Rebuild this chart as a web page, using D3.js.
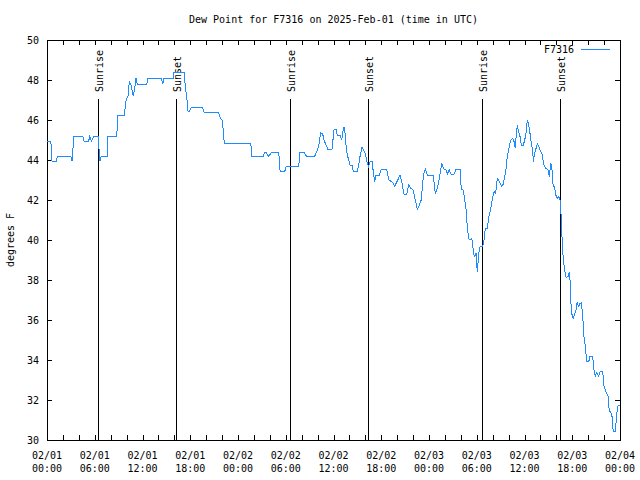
<!DOCTYPE html>
<html>
<head>
<meta charset="utf-8">
<script src="https://cdn.jsdelivr.net/npm/d3@7"></script>
<style>
  html, body { margin: 0; padding: 0; background: #fff; }
  svg { display: block; }
  text { font-family: "DejaVu Sans Mono", "Liberation Mono", monospace; font-size: 10px; fill: #000; }
</style>
</head>
<body>
<svg id="chart" width="640" height="480"></svg>
<script>
// ---- data (hours since 2025-02-01 00:00 UTC, dew point in °F) ----
const obsHours = [
  0, 0.44, 0.54, 0.63, 1.22, 1.29, 2.98, 3.14, 3.39, 4.49, 4.65, 5.24, 5.37, 5.57, 5.91, 6.45, 6.50, 6.66, 6.82, 7.58,
  7.66, 8.76, 8.92, 9.76, 9.84, 9.96, 10.18, 10.34, 10.52, 10.68, 10.84, 11.02, 11.18, 11.35, 12.53, 12.69, 14.36, 14.54, 14.70, 15.87,
  15.96, 17.25, 17.38, 17.55, 17.72, 17.84, 18.18, 19.51, 19.73, 21.53, 21.74, 21.99, 22.15, 22.28,
  25.60, 25.76, 27.18, 27.31, 27.52, 27.86, 28.19, 29.12, 29.29, 29.87, 30.04, 31.63, 31.79, 32.30, 32.63, 33.61, 33.86, 34.14, 34.39, 34.64,
  34.81, 35.06, 35.31, 35.81, 36.06, 36.31, 36.48, 36.82, 37.03, 37.16, 37.32, 37.45, 37.57, 37.74, 37.91, 38.08, 38.33, 38.49, 38.99, 39.17,
  39.33, 39.58, 39.83, 40.00, 40.25, 40.42, 40.59, 40.84, 41.00, 41.18, 41.34, 41.76, 42.01, 42.69, 42.94, 43.27, 43.52, 43.69, 43.98, 44.36,
  44.61, 44.86, 45.20, 45.45, 45.70, 46.03, 46.21, 46.37, 46.53, 46.75, 46.87, 47.03, 47.21, 47.37, 47.54, 47.79, 48.54, 48.79, 49.04, 49.30,
  49.60, 49.80, 50.14, 50.30, 50.55, 50.80, 51.14, 51.39, 51.90, 52.06, 52.32, 52.49, 52.65, 52.81, 52.99, 53.15, 53.37, 53.49, 53.57, 53.74,
  53.91, 54.00, 54.07, 54.25, 54.41, 54.75, 54.91, 55.08, 55.33, 55.51, 55.76, 56.01, 56.17, 56.34, 56.42, 56.59, 56.84, 57.09, 57.34, 57.51,
  57.68, 57.84, 58.02, 58.18, 58.34, 58.52, 58.69, 58.85, 58.94, 59.10, 59.28, 59.44, 59.60, 59.85, 60.03, 60.19, 60.35, 60.53, 60.69, 60.86,
  61.03, 61.11, 61.28, 61.45, 61.61, 61.79, 61.95, 62.20, 62.45, 62.70, 62.96, 63.12, 63.30, 63.46, 63.55, 63.80, 63.96, 64.13, 64.30, 64.46,
  64.55, 64.63, 64.75, 64.88, 65.05, 65.22, 65.47, 65.63, 65.72, 65.81, 65.93, 66.10, 66.26, 66.47, 66.60, 66.81, 66.98, 67.14, 67.32, 67.48,
  67.64, 67.82, 68.07, 68.23, 68.57, 68.74, 68.90, 69.08, 69.33, 69.49, 69.83, 69.99, 70.24, 70.49, 70.66, 70.83, 71.00, 71.09, 71.17, 71.42,
  71.59, 71.75, 72.0
];
const dewPointF = [
  44.95, 44.95, 44.7, 43.95, 43.95, 44.2, 44.2, 43.95, 45.2, 45.2, 44.95, 44.95, 45.2, 44.95, 45.2, 45.2, 44.7, 43.95, 44.2, 44.2,
  45.2, 45.2, 46.25, 46.25, 46.85, 47.0, 47.2, 47.9, 47.8, 47.5, 47.2, 47.6, 48.08, 47.8, 47.8, 48.08, 48.08, 47.8, 48.08, 48.08,
  48.4, 48.4, 47.6, 47.17, 46.42, 46.42, 46.65, 46.65, 46.4, 46.4, 46.13, 46.0, 45.5, 44.83,
  44.83, 44.17, 44.17, 44.37, 44.37, 44.17, 44.38, 44.38, 43.42, 43.42, 43.67, 43.67, 44.38, 44.38, 44.17, 44.17, 44.38, 44.7, 45.37, 45.3,
  45.0, 44.75, 44.53, 44.53, 45.5, 45.53, 45.25, 45.25, 45.0, 45.37, 45.63, 45.35, 44.75, 44.25, 44.0, 43.75, 43.75, 43.42, 43.42, 43.75,
  44.17, 44.63, 44.45, 44.33, 43.83, 43.67, 43.92, 43.92, 43.42, 42.92, 43.25, 43.25, 43.53, 43.53, 43.0, 42.92, 42.83, 42.7, 42.92, 43.25,
  42.83, 42.3, 42.3, 42.75, 42.58, 42.5, 42.08, 41.83, 41.53, 41.7, 41.87, 42.0, 42.92, 43.33, 43.53, 43.25, 43.25, 42.3, 42.58, 43.08,
  43.83, 43.58, 43.5, 43.3, 43.5, 43.25, 43.3, 43.53, 43.53, 42.53, 42.5, 42.0, 41.53, 40.67, 40.08, 40.0, 40.08, 39.87, 39.33, 39.17,
  39.37, 38.75, 38.42, 39.33, 39.67, 39.67, 40.0, 40.58, 40.58, 41.13, 41.58, 42.13, 42.42, 42.33, 42.5, 43.08, 42.92, 42.7, 42.8, 43.17,
  43.58, 44.17, 44.53, 44.83, 45.03, 45.08, 44.92, 44.58, 45.17, 45.75, 45.37, 45.17, 44.75, 44.75, 45.0, 45.33, 46.0, 45.75, 45.33, 44.83,
  44.5, 43.92, 44.33, 44.58, 44.83, 44.7, 44.5, 44.3, 43.75, 43.58, 43.5, 43.17, 43.87, 43.5, 42.83, 42.58, 42.22, 42.08, 42.17, 42.0,
  41.67, 40.92, 39.83, 39.0, 38.47, 38.13, 38.17, 38.42, 38.0, 37.0, 36.33, 36.08, 36.25, 36.5, 36.87, 36.67, 36.83, 36.87, 36.17, 35.17,
  34.67, 33.92, 33.92, 34.17, 34.17, 33.5, 33.2, 33.37, 33.2, 33.42, 33.42, 32.7, 32.42, 32.2, 31.42, 31.42, 31.17, 30.67, 30.42, 30.42,
  31.33, 31.72, 31.72
];
const sunEventHours = [6.45, 16.21, 30.57, 40.37, 54.70, 64.50];
const sunEventLabels = ["Sunrise", "Sunset", "Sunrise", "Sunset", "Sunrise", "Sunset"];
const xTickHours = [0, 6, 12, 18, 24, 30, 36, 42, 48, 54, 60, 66, 72];
const xTickDates = ["02/01", "02/01", "02/01", "02/01", "02/02", "02/02", "02/02", "02/02", "02/03", "02/03", "02/03", "02/03", "02/04"];
const xTickTimes = ["00:00", "06:00", "12:00", "18:00", "00:00", "06:00", "12:00", "18:00", "00:00", "06:00", "12:00", "18:00", "00:00"];
const yTicks = [30, 32, 34, 36, 38, 40, 42, 44, 46, 48, 50];
const seriesName = "F7316";
const titleText = "Dew Point for F7316 on 2025-Feb-01 (time in UTC)";
const yLabelText = "degrees F";

// ---- layout ----
const L = 47, R = 620, T = 40, B = 440;
const lineColor = "#1e8cff";

const svg = d3.select("#chart");
const x = d3.scaleLinear().domain([0, 72]).range([L, R]);
const y = d3.scaleLinear().domain([30, 50]).range([B, T]);

const minorTicks = d3.range(0, 72.001, 2);

// axes ticks (inward)
const gB = svg.append("g").attr("transform", `translate(0,${B})`)
  .call(d3.axisBottom(x).tickValues(minorTicks).tickSize(-5).tickFormat(""));
const gT = svg.append("g").attr("transform", `translate(0,${T})`)
  .call(d3.axisTop(x).tickValues(minorTicks).tickSize(-5).tickFormat(""));
const gL = svg.append("g").attr("transform", `translate(${L},0)`)
  .call(d3.axisLeft(y).tickValues(yTicks).tickSize(-5).tickFormat(""));
const gR = svg.append("g").attr("transform", `translate(${R},0)`)
  .call(d3.axisRight(y).tickValues(yTicks).tickSize(-5).tickFormat(""));
[gB, gT, gL, gR].forEach(g => {
  g.select(".domain").remove();
  g.selectAll("line").attr("stroke", "#000").attr("shape-rendering", "crispEdges");
});

// frame
svg.append("rect")
  .attr("x", L).attr("y", T).attr("width", R - L).attr("height", B - T)
  .attr("fill", "none").attr("stroke", "#000").attr("shape-rendering", "crispEdges");

// y tick labels
svg.append("g").selectAll("text").data(yTicks).join("text")
  .attr("x", L - 8).attr("y", d => y(d) + 4)
  .attr("text-anchor", "end").text(d => d);

// x tick labels
const xl = svg.append("g").selectAll("g").data(xTickHours).join("g");
xl.append("text").attr("x", d => x(d)).attr("y", 459).attr("text-anchor", "middle")
  .text((d, i) => xTickDates[i]);
xl.append("text").attr("x", d => x(d)).attr("y", 472).attr("text-anchor", "middle")
  .text((d, i) => xTickTimes[i]);

// title
svg.append("text").attr("x", (L + R) / 2).attr("y", 23).attr("text-anchor", "middle").text(titleText);

// y label
svg.append("text").attr("transform", `translate(14,${(T + B) / 2}) rotate(-90)`)
  .attr("text-anchor", "middle").text(yLabelText);

// sunrise / sunset
const sg = svg.append("g");
sg.selectAll("line").data(sunEventHours).join("line")
  .attr("x1", d => x(d)).attr("x2", d => x(d)).attr("y1", 99).attr("y2", B)
  .attr("stroke", "#000").attr("shape-rendering", "crispEdges");
sg.selectAll("text").data(sunEventHours).join("text")
  .attr("transform", d => `translate(${x(d) + 5},92) rotate(-90)`)
  .attr("text-anchor", "start").text((d, i) => sunEventLabels[i]);

// data line
const pts = obsHours.map((h, i) => [h, dewPointF[i]]);
svg.append("path").datum(pts)
  .attr("fill", "none").attr("stroke", lineColor).attr("stroke-width", 1)
  .attr("shape-rendering", "crispEdges")
  .attr("d", d3.line().x(d => x(d[0])).y(d => y(d[1])));

// legend
svg.append("text").attr("x", 574).attr("y", 53).attr("text-anchor", "end").text(seriesName);
svg.append("line").attr("x1", 581).attr("x2", 610).attr("y1", 49).attr("y2", 49)
  .attr("stroke", lineColor).attr("shape-rendering", "crispEdges");
</script>
</body>
</html>
